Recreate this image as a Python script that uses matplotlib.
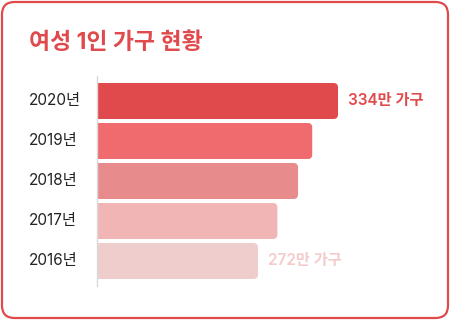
import matplotlib
matplotlib.use("Agg")
import matplotlib.pyplot as plt
from matplotlib.patches import FancyBboxPatch
from matplotlib.transforms import blended_transform_factory

plt.rcParams['font.family'] = ['Inter', 'Noto Sans CJK KR', 'DejaVu Sans']

# 데이터 (만 가구)
years = ['2020년', '2019년', '2018년', '2017년', '2016년']
values = [334, 314, 303, 287, 272]
colors = ['#E04A4C', '#EF6B6D', '#E88B8C', '#F1B5B5', '#EFCDCD']
value_labels = {0: ('334만 가구', '#E04A4C'), 4: ('272만 가구', '#F3CBCB')}
title = '여성 1인 가구 현황'

W, H = 450, 320
fig = plt.figure(figsize=(W / 100, H / 100), dpi=100)

# 바깥 둥근 테두리
frame = FancyBboxPatch((2 / W, 2 / H), (W - 4) / W, (H - 4) / H,
                       boxstyle="round,pad=0,rounding_size=0.028",
                       mutation_aspect=W / H,
                       transform=fig.transFigure, facecolor='white',
                       edgecolor='#E04A4C', linewidth=1.6, zorder=-1)
fig.patches.append(frame)

fig.text(29 / W, 1 - 43 / H, title, fontsize=16.5, fontweight='bold',
         color='#E04A4C', ha='left', va='center')

# 막대 영역
ax_left, ax_right, ax_top, ax_bottom = 97, 440, 76, 286
ax = fig.add_axes([ax_left / W, 1 - ax_bottom / H,
                   (ax_right - ax_left) / W, (ax_bottom - ax_top) / H])
ax.set_facecolor('none')
xmin = 147.2
px_per_unit = 1.2903
ax.set_xlim(xmin, xmin + (ax_right - ax_left) / px_per_unit)
ax.set_ylim(4.625, -0.625)
for s in ['top', 'right', 'bottom']:
    ax.spines[s].set_visible(False)
ax.spines['left'].set_color('#D9D9D9')
ax.spines['left'].set_linewidth(1)
ax.set_xticks([])
ax.set_yticks([])

pos = list(range(len(years)))
bars = ax.barh(pos, values, height=0.9, left=0, color=colors)
aspect = (1 / 40) / (1 / px_per_unit)
for b, c in zip(bars, colors):
    b.set_visible(False)
    x0 = xmin - 10
    w = b.get_width() - x0
    ax.add_patch(FancyBboxPatch((x0, b.get_y()), w, b.get_height(),
                                boxstyle="round,pad=0,rounding_size=3.5",
                                mutation_aspect=aspect, facecolor=c,
                                edgecolor='none', zorder=2))
ax.spines['left'].set_zorder(3)

trans = blended_transform_factory(fig.transFigure, ax.transData)
for i, y in enumerate(years):
    ax.text(29 / W, i, y, transform=trans, fontsize=11, color='#222222',
            ha='left', va='center')

for i, (txt, c) in value_labels.items():
    ax.annotate(txt, (values[i], i), xytext=(7.5, 0), textcoords='offset points',
                fontsize=11, fontweight='semibold', color=c,
                ha='left', va='center', annotation_clip=False)

fig.savefig('out.png', dpi=100)
